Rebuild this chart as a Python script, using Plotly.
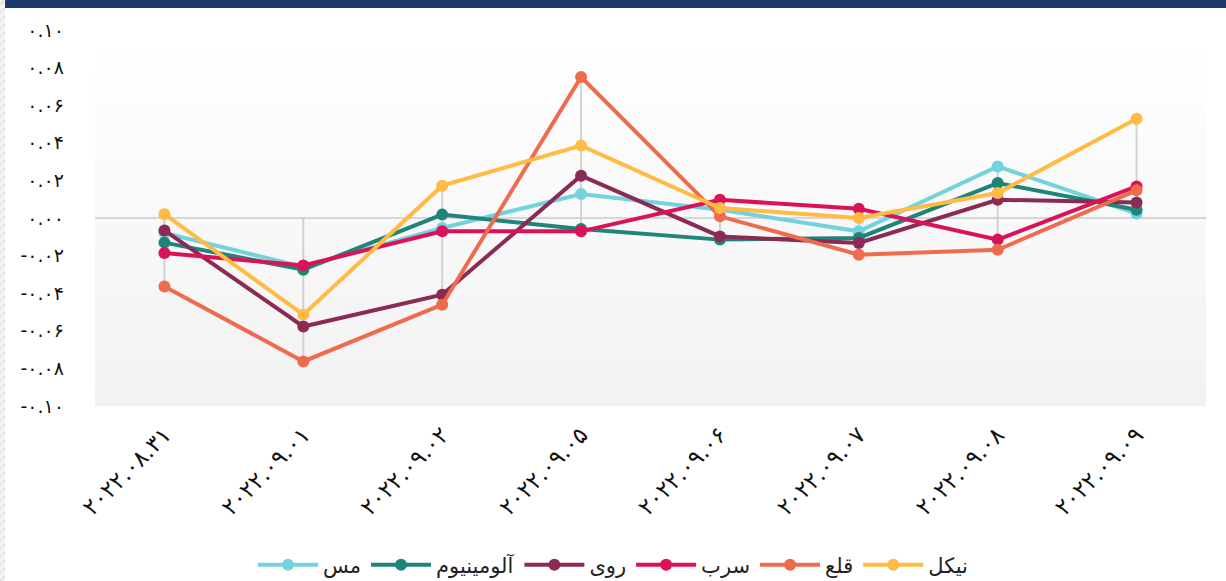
import plotly.graph_objects as go

dates = ["۲۰۲۲.۰۸.۳۱", "۲۰۲۲.۰۹.۰۱", "۲۰۲۲.۰۹.۰۲", "۲۰۲۲.۰۹.۰۵",
         "۲۰۲۲.۰۹.۰۶", "۲۰۲۲.۰۹.۰۷", "۲۰۲۲.۰۹.۰۸", "۲۰۲۲.۰۹.۰۹"]

mes = [-0.008, -0.026, -0.0053, 0.0128, 0.0044, -0.0071, 0.0274, 0.0023]
aluminium = [-0.0131, -0.0275, 0.0018, -0.0059, -0.0115, -0.0106, 0.0186, 0.0044]
ruy = [-0.0066, -0.0577, -0.0408, 0.0225, -0.0098, -0.0133, 0.0097, 0.0083]
sorb = [-0.0186, -0.0252, -0.0071, -0.0071, 0.0097, 0.0049, -0.0115, 0.0168]
ghala = [-0.0364, -0.0763, -0.0461, 0.075, 0.0009, -0.0195, -0.0169, 0.0147]
nikel = [0.002, -0.0514, 0.0172, 0.0385, 0.0053, 0.0, 0.0133, 0.0528]

series_names = ["مس", "آلومینیوم", "روی", "سرب", "قلع", "نیکل"]
series_values = [mes, aluminium, ruy, sorb, ghala, nikel]
series_colors = ["#74d2dd", "#1f8479", "#8c2a56", "#dc1258", "#ef6b4d", "#ffbb44"]

y_tickvals = [0.10, 0.08, 0.06, 0.04, 0.02, 0.0, -0.02, -0.04, -0.06, -0.08, -0.10]
y_ticktext = ["۰.۱۰", "۰.۰۸", "۰.۰۶", "۰.۰۴", "۰.۰۲", "۰.۰۰",
              "-۰.۰۲", "-۰.۰۴", "-۰.۰۶", "-۰.۰۸", "-۰.۱۰"]

FONT = "DejaVu Sans"
fig = go.Figure()

# vertical range lines at each category (from data extremes)
gx, gy = [], []
for i, d in enumerate(dates):
    vals = [s[i] for s in series_values]
    gx += [d, d, None]
    gy += [min(0, min(vals)), max(0, max(vals)), None]
fig.add_trace(go.Scatter(x=gx, y=gy, mode="lines", line=dict(color="rgba(200,200,200,0.8)", width=2),
                         showlegend=False, hoverinfo="skip"))

for name, vals, col in zip(series_names, series_values, series_colors):
    fig.add_trace(go.Scatter(x=dates, y=vals, name=name, mode="lines+markers",
                             line=dict(color=col, width=4),
                             marker=dict(color=col, size=12)))

shapes = []
# gradient plot background
N = 40
for k in range(N):
    t = k / (N - 1)
    c = int(round(242 + (255 - 242) * t))
    shapes.append(dict(type="rect", xref="x domain", yref="y domain", x0=0, x1=1,
                       y0=k / N, y1=(k + 1) / N + 0.002, fillcolor=f"rgb({c},{c},{c})",
                       line=dict(width=0), layer="below"))
W, H = 1226, 581
L, R, T, B = 95, 20, 30, 175
pw, ph = W - L - R, H - T - B
def px(x):
    return (x - L) / pw
def py(y):
    return 1 - (y - T) / ph
# top bar
shapes.append(dict(type="rect", xref="paper", yref="paper", x0=px(4), x1=px(W), y0=py(8), y1=py(0),
                   fillcolor="#1c3a6c", line=dict(width=0)))
# left hatch strip
shapes.append(dict(type="rect", xref="paper", yref="paper", x0=px(0), x1=px(5), y0=py(H), y1=py(0),
                   fillcolor="#f4f4f4", line=dict(width=0)))
for yy in range(0, H + 10, 8):
    shapes.append(dict(type="line", xref="paper", yref="paper", x0=px(0), x1=px(5),
                       y0=py(yy + 5), y1=py(yy), line=dict(color="#dedede", width=1.5)))

fig.update_layout(
    width=W, height=H,
    margin=dict(l=L, r=R, t=T, b=B, autoexpand=False),
    paper_bgcolor="white", plot_bgcolor="rgba(0,0,0,0)",
    shapes=shapes,
    font=dict(family=FONT, color="#111"),
    xaxis=dict(type="category", range=[-0.5, 7.5], showgrid=False, zeroline=False,
               tickangle=-45, tickfont=dict(size=23, family=FONT, color="#111"), ticks="",
               showline=False, automargin=False, ticklabelstandoff=10),
    yaxis=dict(range=[-0.10, 0.10], tickvals=y_tickvals, ticktext=y_ticktext,
               showgrid=False, zeroline=True, zerolinecolor="#d6d6d6", zerolinewidth=2,
               tickfont=dict(size=19, family=FONT, color="#111"), ticks="", ticklabelstandoff=30,
               automargin=False),
    legend=dict(orientation="h", x=0.5, xanchor="center", xref="container",
                y=1 - 565 / H, yanchor="middle", yref="container",
                font=dict(size=21, family=FONT, color="#222"), itemwidth=60,
                bgcolor="rgba(0,0,0,0)"),
)

fig.write_html("out.html", post_script="document.body.style.margin='0px';",
               config={"displayModeBar": False})
